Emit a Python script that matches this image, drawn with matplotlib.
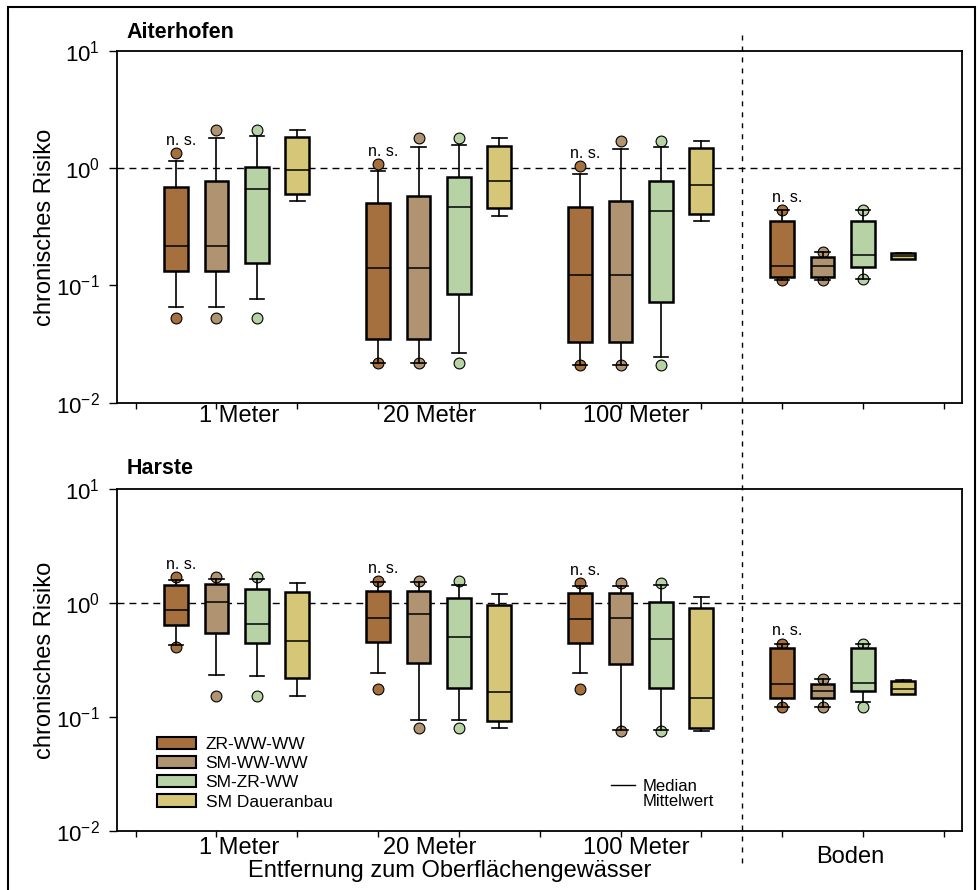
import numpy as np
import matplotlib.pyplot as plt
import matplotlib.transforms as mtransforms
from matplotlib.patches import Patch, Rectangle
from matplotlib.lines import Line2D

plt.rcParams['font.family'] = ['Liberation Sans', 'DejaVu Sans']
plt.rcParams['mathtext.default'] = 'regular'

series = ['ZR-WW-WW', 'SM-WW-WW', 'SM-ZR-WW', 'SM Daueranbau']
colors = ['#a66f3e', '#b09471', '#b7d3a6', '#d6c778']
groups = ['1 Meter', '20 Meter', '100 Meter', 'Boden']

# Aiterhofen, [group][series]
a_whislo = [[0.066, 0.066, 0.077, 0.526], [0.022, 0.022, 0.0265, 0.39],
            [0.021, 0.021, 0.0246, 0.352], [0.112, 0.112, 0.114, 0.167]]
a_q1 = [[0.132, 0.132, 0.154, 0.60], [0.035, 0.035, 0.0845, 0.457],
        [0.033, 0.033, 0.073, 0.407], [0.119, 0.119, 0.143, 0.167]]
a_med = [[0.217, 0.217, 0.67, 0.97], [0.142, 0.142, 0.467, 0.78],
         [0.122, 0.122, 0.435, 0.716], [0.147, 0.146, 0.183, 0.177]]
a_q3 = [[0.69, 0.785, 1.03, 1.86], [0.505, 0.58, 0.84, 1.55],
        [0.467, 0.53, 0.785, 1.49], [0.357, 0.175, 0.357, 0.188]]
a_whishi = [[1.15, 1.82, 1.9, 2.11], [0.94, 1.52, 1.58, 1.81],
            [0.9, 1.45, 1.51, 1.71], [0.438, 0.193, 0.438, 0.188]]
a_fliers = [[[1.34, 0.053], [2.14, 0.053], [2.14, 0.053], []],
            [[1.08, 0.022], [1.82, 0.022], [1.82, 0.022], []],
            [[1.04, 0.021], [1.72, 0.021], [1.72, 0.021], []],
            [[0.438, 0.112], [0.193, 0.112], [0.438, 0.114], []]]

# Harste, [group][series]
h_whislo = [[0.43, 0.235, 0.229, 0.152], [0.245, 0.094, 0.094, 0.08],
            [0.243, 0.0767, 0.0767, 0.075], [0.123, 0.123, 0.134, 0.158]]
h_q1 = [[0.642, 0.546, 0.443, 0.221], [0.455, 0.296, 0.181, 0.0914],
        [0.45, 0.29, 0.181, 0.0794], [0.147, 0.147, 0.168, 0.158]]
h_med = [[0.877, 1.02, 0.66, 0.465], [0.745, 0.797, 0.5, 0.164],
         [0.72, 0.745, 0.488, 0.146], [0.195, 0.17, 0.199, 0.177]]
h_q3 = [[1.43, 1.48, 1.32, 1.24], [1.28, 1.28, 1.1, 0.957],
        [1.23, 1.23, 1.03, 0.9], [0.406, 0.195, 0.406, 0.207]]
h_whishi = [[1.61, 1.64, 1.62, 1.49], [1.52, 1.52, 1.43, 1.2],
            [1.41, 1.41, 1.43, 1.13], [0.44, 0.214, 0.44, 0.21]]
h_fliers = [[[1.68, 0.415], [1.7, 0.153], [1.7, 0.153], []],
            [[1.55, 0.175], [1.55, 0.0805], [1.55, 0.0805], []],
            [[1.49, 0.175], [1.49, 0.075], [1.51, 0.075], []],
            [[0.44, 0.123], [0.214, 0.123], [0.44, 0.123], []]]

ytick_vals = [0.01, 0.1, 1, 10]
ytick_labels = ['$10^{-2}$', '$10^{-1}$', '$10^{0}$', '$10^{1}$']

fig = plt.figure(figsize=(9.79, 8.9), dpi=100)
ax_top = fig.add_axes([0.1192, 0.5475, 0.8634, 0.3952])
ax_bot = fig.add_axes([0.1192, 0.0666, 0.8634, 0.3836])


def draw_panel(ax, whislo, q1, med, q3, whishi, fliers):
    stats, pos = [], []
    for g in range(4):
        for s in range(4):
            stats.append(dict(whislo=whislo[g][s], q1=q1[g][s], med=med[g][s],
                              q3=q3[g][s], whishi=whishi[g][s], fliers=fliers[g][s]))
            pos.append(5 * g + 1.5 + s)
    bp = ax.bxp(stats, positions=pos, widths=0.59, capwidths=0.36, patch_artist=True,
                boxprops=dict(linewidth=1.8, edgecolor='k', zorder=3.5),
                medianprops=dict(color='k', linewidth=1.1, zorder=4),
                whiskerprops=dict(color='k', linewidth=1.2, zorder=3),
                capprops=dict(color='k', linewidth=1.2, zorder=3),
                flierprops=dict(marker='o', markersize=7.8, markeredgecolor='k',
                                markeredgewidth=0.8, zorder=2.5))
    for i, box in enumerate(bp['boxes']):
        box.set_facecolor(colors[i % 4])
    for i, fl in enumerate(bp['fliers']):
        fl.set_markerfacecolor(colors[i % 4])
    # n. s. above first box of each group
    for g in range(4):
        top = max([whishi[g][0]] + fliers[g][0])
        ax.annotate('n. s.', (pos[4 * g], top), xytext=(5, 13), textcoords='offset pixels',
                    ha='center', va='center', fontsize=11.5)

    ax.axhline(1, color='k', lw=1, ls=(0, (5, 3.6)), zorder=1)
    ax.set_yscale('log')
    ax.set_ylim(0.01, 10)
    ax.set_yticks(ytick_vals)
    ax.set_yticklabels(ytick_labels, fontsize=16)
    ax.yaxis.set_minor_locator(plt.NullLocator())
    ax.set_xlim(0.03, 20.95)
    ax.set_xticks([])
    ax.set_xticks(np.arange(0.5, 21, 2), minor=True)
    ax.tick_params(axis='x', which='minor', length=4, width=1)
    ax.tick_params(axis='y', which='major', length=6, width=1, pad=6)
    for sp in ax.spines.values():
        sp.set_linewidth(1.3)


draw_panel(ax_top, a_whislo, a_q1, a_med, a_q3, a_whishi, a_fliers)
draw_panel(ax_bot, h_whislo, h_q1, h_med, h_q3, h_whishi, h_fliers)

label_x = [3.05, 7.78, 12.88, 18.18]
for i in range(3):
    ax_top.text(label_x[i], -0.038, groups[i], transform=ax_top.get_xaxis_transform(),
                ha='center', va='center', fontsize=17)
    ax_bot.text(label_x[i], -0.05, groups[i], transform=ax_bot.get_xaxis_transform(),
                ha='center', va='center', fontsize=17)
ax_bot.text(label_x[3], -0.077, groups[3], transform=ax_bot.get_xaxis_transform(),
            ha='center', va='center', fontsize=17)

ax_top.text(0.012, 1.054, 'Aiterhofen', transform=ax_top.transAxes, fontsize=15.5,
            fontweight='bold', va='center')
ax_bot.text(0.012, 1.062, 'Harste', transform=ax_bot.transAxes, fontsize=15.5,
            fontweight='bold', va='center')

fig.text(45 / 979, 1 - 227 / 890, 'chronisches Risiko', rotation=90, ha='center',
         va='center', fontsize=17)
fig.text(45 / 979, 1 - 660 / 890, 'chronisches Risiko', rotation=90, ha='center',
         va='center', fontsize=17)
fig.text(450 / 979, 1 - 871 / 890, 'Entfernung zum Oberflächengewässer', ha='center',
         va='center', fontsize=17)

# vertical separator through both panels
trans = mtransforms.blended_transform_factory(ax_top.transData, fig.transFigure)
fig.add_artist(Line2D([15.5, 15.5], [1 - 35 / 890, 1 - 866 / 890], transform=trans,
                      color='k', lw=1, ls=(0, (3.6, 4.3))))

handles = [Patch(facecolor=c, edgecolor='k', linewidth=1.5) for c in colors]
leg = ax_bot.legend(handles, series, loc='upper left', bbox_to_anchor=(157 / 979, 1 - 737 / 890),
                    bbox_transform=fig.transFigure, frameon=False, fontsize=12.5,
                    handlelength=2.25, handleheight=0.7, handletextpad=0.55,
                    labelspacing=0.23, borderpad=0, borderaxespad=0)
ax_bot.add_artist(leg)
ax_bot.legend([Line2D([], [], color='k', lw=1), Line2D([], [], color='none')],
              ['Median', 'Mittelwert'], loc='upper left',
              bbox_to_anchor=(611 / 979, 1 - 779 / 890), bbox_transform=fig.transFigure,
              frameon=False, fontsize=12, handlelength=1.45, handletextpad=0.42,
              labelspacing=0.0, borderpad=0, borderaxespad=0)

fig.add_artist(Rectangle((0.0077, -0.01), 0.9882, 1.0016, transform=fig.transFigure,
                         fill=False, lw=1.5, ec='k'))

fig.savefig('out.png', dpi=100)
